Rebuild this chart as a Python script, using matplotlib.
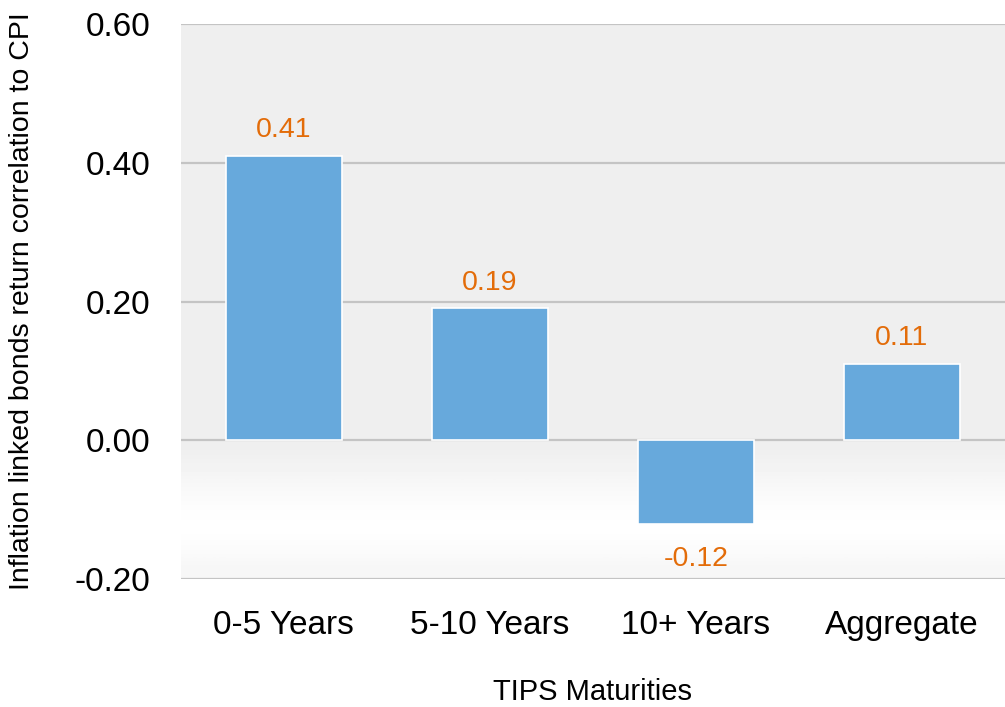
import numpy as np
import matplotlib.pyplot as plt

plt.rcParams["font.family"] = ["Liberation Sans", "DejaVu Sans"]

# --- Data ---
maturities = ["0-5 Years", "5-10 Years", "10+ Years", "Aggregate"]
correlation = [0.41, 0.19, -0.12, 0.11]
yticks = [-0.20, 0.00, 0.20, 0.40, 0.60]

bar_color = "#67a9dc"
label_color = "#e36c09"
grid_color = "#c4c4c4"

fig = plt.figure(figsize=(10.05, 7.07), dpi=100)
ax = fig.add_axes([0.180, 0.181, 0.820, 0.785])

x = np.arange(len(maturities))
ax.set_xlim(-0.5, len(maturities) - 0.5)
ax.set_ylim(-0.2, 0.6)

# plain grey above zero, soft fade below zero
ax.axhspan(0, 0.6, color="#efefef", zorder=0, lw=0)
fade = np.array([0.937, 0.955, 0.975, 0.992, 1.0, 0.985, 0.965])
ax.imshow(fade.reshape(-1, 1), cmap="gray", vmin=0, vmax=1, aspect="auto",
          extent=(-0.5, len(maturities) - 0.5, -0.2, 0.0), origin="upper",
          interpolation="bilinear", zorder=0)

for t in yticks:
    ax.axhline(t, color=grid_color, lw=1.6, zorder=1)

bars = ax.bar(x, correlation, width=0.565, color=bar_color,
              edgecolor="white", linewidth=1.2, zorder=2)

for xi, v in zip(x, correlation):
    if v >= 0:
        ax.annotate(f"{v:.2f}", (xi, v), xytext=(0, 9), textcoords="offset points",
                    ha="center", va="bottom", fontsize=20.5, color=label_color)
    else:
        ax.annotate(f"{v:.2f}", (xi, v), xytext=(0, -16), textcoords="offset points",
                    ha="center", va="top", fontsize=20.5, color=label_color)

ax.set_xticks(x)
ax.set_xticklabels(maturities, fontsize=24)
ax.set_yticks(yticks)
ax.set_yticklabels([f"{t:.2f}" for t in yticks], fontsize=24)
ax.tick_params(axis="both", length=0)
ax.tick_params(axis="y", pad=22)
ax.tick_params(axis="x", pad=22)
for s in ax.spines.values():
    s.set_visible(False)

ax.set_xlabel("TIPS Maturities", fontsize=21, va="center")
ax.xaxis.set_label_coords(592 / 1005, 1 - 692 / 707, transform=fig.transFigure)
ax.set_ylabel("Inflation linked bonds return correlation to CPI", fontsize=20.5, va="center")
ax.yaxis.set_label_coords(22 / 1005, 0.1815 + 0.785 / 2, transform=fig.transFigure)

fig.savefig("out.png", dpi=100)
